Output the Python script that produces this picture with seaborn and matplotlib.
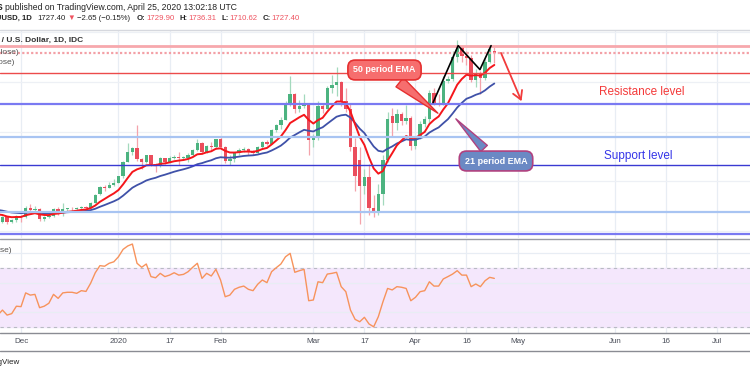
import numpy as np
import pandas as pd
import matplotlib
matplotlib.use("Agg")
import matplotlib.pyplot as plt
from matplotlib.transforms import Affine2D
from matplotlib.lines import Line2D
import seaborn as sns

# trading days shown on the chart (IDC feed, no bars on Dec 25 / Jan 1)
start_day = "2019-11-25"
end_day = "2020-07-15"
closed_days = ["2019-12-25", "2020-01-01"]

opens = [1453, 1455, 1462, 1454, 1458,
	1464, 1463, 1477, 1474, 1475, 1460, 1462, 1465, 1475, 1471, 1476, 1476, 1475, 1477, 1479, 1478, 1486, 1499, 1511, 1510, 1515,
	1518, 1528, 1552, 1567, 1574, 1556, 1552, 1562, 1548, 1545, 1557, 1552, 1557, 1560, 1558, 1558, 1563, 1571, 1582, 1567, 1577, 1575,
	1589, 1576, 1553, 1556, 1566, 1570, 1572, 1568, 1566, 1575, 1584, 1581, 1602, 1611, 1619, 1643, 1660, 1637, 1642, 1643,
	1586, 1590, 1641, 1637, 1671, 1675, 1680, 1649, 1637, 1576, 1555, 1512, 1527, 1477, 1471, 1499, 1554, 1625, 1614, 1628, 1617, 1622,
	1577, 1591, 1613, 1620, 1662, 1647, 1646, 1681, 1685, 1720, 1736, 1722, 1719, 1684, 1695, 1687, 1713, 1729.90]
highs = [1458, 1464, 1463, 1460, 1466,
	1466, 1481, 1484, 1481, 1478, 1465, 1469, 1477, 1479, 1486, 1478, 1479, 1479, 1481, 1481, 1487, 1499, 1512, 1514, 1519, 1524,
	1529, 1553, 1582, 1576, 1611, 1558, 1563, 1563, 1549, 1559, 1557, 1561, 1563, 1568, 1561, 1566, 1573, 1588, 1584, 1578, 1584, 1589,
	1592, 1577, 1562, 1567, 1574, 1576, 1574, 1571, 1577, 1585, 1586, 1604, 1612, 1623, 1649, 1689, 1662, 1651, 1660, 1644,
	1597, 1649, 1645, 1674, 1692, 1704, 1681, 1671, 1646, 1590, 1575, 1540, 1548, 1498, 1516, 1563, 1632, 1638, 1637, 1631, 1643, 1625,
	1592, 1618, 1626, 1667, 1671, 1660, 1690, 1690, 1730, 1748, 1738, 1730, 1723, 1701, 1698, 1717, 1739, 1736.31]
lows = [1450, 1453, 1452, 1453, 1455,
	1454, 1461, 1469, 1470, 1457, 1456, 1461, 1462, 1466, 1465, 1472, 1473, 1473, 1471, 1475, 1477, 1485, 1498, 1505, 1509, 1513,
	1517, 1525, 1552, 1563, 1553, 1540, 1549, 1545, 1536, 1544, 1548, 1550, 1556, 1546, 1554, 1552, 1561, 1569, 1564, 1565, 1569, 1573,
	1574, 1549, 1547, 1552, 1562, 1568, 1562, 1563, 1564, 1573, 1578, 1580, 1599, 1605, 1619, 1642, 1630, 1632, 1638, 1563,
	1576, 1586, 1630, 1636, 1663, 1658, 1641, 1632, 1569, 1504, 1451, 1500, 1466, 1463, 1466, 1482, 1552, 1591, 1603, 1611, 1612, 1571,
	1572, 1589, 1608, 1614, 1643, 1642, 1643, 1678, 1682, 1712, 1712, 1707, 1680, 1672, 1660, 1683, 1710, 1710.62]
closes = [1455, 1462, 1454, 1458, 1464,
	1463, 1477, 1474, 1475, 1460, 1462, 1465, 1475, 1471, 1476, 1476, 1475, 1477, 1479, 1478, 1486, 1498, 1511, 1510, 1515, 1518,
	1528, 1552, 1567, 1574, 1556, 1552, 1562, 1548, 1545, 1557, 1552, 1557, 1560, 1558, 1558, 1563, 1571, 1582, 1567, 1577, 1575, 1589,
	1576, 1553, 1556, 1566, 1570, 1572, 1568, 1566, 1575, 1584, 1581, 1602, 1611, 1619, 1643, 1660, 1637, 1642, 1643, 1586,
	1590, 1641, 1637, 1671, 1675, 1680, 1649, 1637, 1576, 1529, 1512, 1527, 1477, 1471, 1499, 1554, 1620, 1614, 1628, 1617, 1622, 1577,
	1591, 1613, 1620, 1662, 1647, 1646, 1681, 1685, 1720, 1736, 1722, 1719, 1684, 1695, 1687, 1713, 1733, 1727.40]
rsi = [38.0, 41.4, 38.0, 39.0, 44.0, 43.7, 53.0, 51.5, 52.0, 43.0, 44.0, 46.0, 52.0, 49.3, 53.0, 53.4, 53.4, 52.7, 54.5, 54.0,
	59.5, 66.6, 71.4, 71.0, 73.0, 74.0, 77.4, 82.4, 84.7, 86.0, 73.0, 70.3, 72.5, 64.0, 63.2, 66.2, 64.0, 65.0, 66.6, 65.0,
	65.5, 67.3, 70.3, 73.0, 62.8, 66.2, 64.4, 68.9, 61.7, 50.4, 51.5, 55.4, 56.8, 57.6, 55.4, 54.5, 58.8, 61.7, 59.9, 67.3,
	70.0, 72.5, 77.4, 79.7, 66.9, 68.0, 68.9, 47.7, 48.2, 60.5, 59.9, 65.7, 66.2, 66.9, 57.2, 53.8, 41.4, 35.1, 33.5, 36.5,
	32.0, 30.1, 36.9, 47.0, 56.0, 55.0, 57.2, 56.8, 56.0, 47.7, 50.0, 53.8, 54.5, 60.5, 57.6, 57.6, 62.4, 64.0, 65.7, 68.0,
	65.0, 65.0, 57.2, 59.0, 57.2, 61.2, 63.5, 62.8]
# EMA values at the left edge of the picture (history before it is cut off)
ema_fast_seed = 1470
ema_slow_seed = 1476

tick_dates = ["2019-12-02", "2020-01-02", "2020-01-17", "2020-02-03", "2020-03-02", "2020-03-17",
	"2020-04-01", "2020-04-16", "2020-05-01", "2020-06-01", "2020-06-16", "2020-07-01"]
tick_labels = ["Dec", "2020", "17", "Feb", "Mar", "17", "Apr", "16", "May", "Jun", "16", "Jul"]

level_prices = [1738.7, 1727.4, 1695, 1645, 1592, 1547, 1471, 1435]
price_grid = [1440, 1520, 1600, 1680, 1760]

# drawings (bar index, price)
zigzag_x = [93.8, 99.2, 103.9, 106.3]
zigzag_y = [1647, 1738.5, 1700, 1738.5]

sns.set_style("white")
plt.rcParams['font.family'] = ['Liberation Sans', 'DejaVu Sans']

days = pd.bdate_range(start_day, end_day).drop(pd.to_datetime(closed_days))
bars = np.arange(len(closes))
o = np.array(opens); h = np.array(highs); l = np.array(lows); c = np.array(closes)
ticks = days.get_indexer(pd.to_datetime(tick_dates))

ema_fast = pd.Series([ema_fast_seed] + closes).ewm(span = 9, adjust = False).mean().iloc[1:].to_numpy()
ema_slow = pd.Series([ema_slow_seed] + closes).ewm(span = 21, adjust = False).mean().iloc[1:].to_numpy()
df = pd.DataFrame({"bar":bars, "ema9":ema_fast, "ema21":ema_slow, "rsi":rsi})

fig = plt.figure(figsize = (7.5, 3.75), dpi = 100)
pix = Affine2D().scale(1/750, -1/375).translate(0, 1) + fig.transFigure

def pane(top, bottom):
	return [0, 1 - bottom/375, 1, (bottom - top)/375]

ax = fig.add_axes(pane(29.5, 238))
ax_rsi = fig.add_axes(pane(239, 333), sharex = ax)
for a in (ax, ax_rsi):
	for s in a.spines.values():
		s.set_visible(False)
	for t in ticks:
		a.axvline(t, color = "#e8edf4", lw = 0.9, zorder = 0)
ax.set_xlim(0.47, 162.1)
ax.set_ylim(1429, 1764.5)
ax_rsi.set_ylim(25.9, 89.4)

for p in price_grid:
	ax.axhline(p, color = "#edf0f5", lw = 0.9, zorder = 0)

# candles
up = c >= o
body_col = np.where(up, "#4cb380", "#eb4d5c")
wick_col = np.where(up, "#a3d9bd", "#f4a3ab")
ax.vlines(bars, l, h, colors = wick_col, lw = 0.9, zorder = 2)
ax.bar(bars, np.maximum(np.abs(c - o), 0.8), bottom = np.minimum(o, c), width = 0.72,
	color = body_col, linewidth = 0, zorder = 3)

sns.lineplot(data = df, x = "bar", y = "ema21", ax = ax, color = "#3f51a8", lw = 1.3, zorder = 4)
sns.lineplot(data = df, x = "bar", y = "ema9", ax = ax, color = "#f5161b", lw = 1.4, zorder = 4)

level_style = [("#f7a8ad", 2.0, "-"), ("#f3a0a6", 1.6, (0, (1, 1))), ("#ec4b4b", 1.0, "-"),
	("#7a7af2", 1.6, "-"), ("#a8c4f2", 1.6, "-"), ("#3a3ad2", 1.0, "-"),
	("#a8c4f2", 1.6, "-"), ("#7a7af2", 1.6, "-")]
for p, (col, lw, ls) in zip(level_prices, level_style):
	ax.axhline(p, color = col, lw = lw, ls = ls, zorder = 5)

ax.plot(zigzag_x, zigzag_y, color = "black", lw = 1.2, zorder = 6)
ax.annotate("", xy = (113.1, 1645), xytext = (108.2, 1731),
	arrowprops = dict(arrowstyle = "->,head_length=0.6,head_width=0.35", color = "#f23b3b", lw = 1.3), zorder = 6)

ax.annotate("50 period EMA", xy = (95.3, 1627), xytext = (384.5, 70), textcoords = pix,
	ha = "center", va = "center", fontsize = 6.5, fontweight = "bold", color = "white", zorder = 7,
	bbox = dict(boxstyle = "round,pad=0.6,rounding_size=0.8", fc = "#f66e6e", ec = "#e52f2f", lw = 1.2),
	arrowprops = dict(arrowstyle = "wedge,tail_width=1.3", fc = "#f66e6e", ec = "#e52f2f", lw = 1.0))
ax.annotate("21 period EMA", xy = (98.3, 1624), xytext = (496, 161), textcoords = pix,
	ha = "center", va = "center", fontsize = 6.5, fontweight = "bold", color = "white", zorder = 7,
	bbox = dict(boxstyle = "round,pad=0.6,rounding_size=0.8", fc = "#6b89c4", ec = "#b0417f", lw = 1.2),
	arrowprops = dict(arrowstyle = "wedge,tail_width=1.0", fc = "#6b89c4", ec = "#b0417f", lw = 1.0))

fig.text(599, 92, "Resistance level", transform = pix, color = "#f43a3a", fontsize = 8.5, va = "center")
fig.text(604, 156, "Support level", transform = pix, color = "#3535e8", fontsize = 8.5, va = "center")

# legends of the panes, cut at the left edge
fig.text(83, 40, "Gold Spot / U.S. Dollar, 1D, IDC", transform = pix, ha = "right", va = "center",
	fontsize = 6, fontweight = "bold", color = "#333333")
fig.text(18.5, 52, "EMA (9, close)", transform = pix, ha = "right", va = "center", fontsize = 6, color = "#555555")
fig.text(14, 62, "EMA (21, close)", transform = pix, ha = "right", va = "center", fontsize = 6, color = "#555555")
fig.text(12, 250, "RSI (14, close)", transform = pix, ha = "right", va = "center", fontsize = 6, color = "#555555")

# RSI pane
ax_rsi.axhspan(30, 70, color = "#f4e7fc", zorder = 0)
for v in (40, 60, 80):
	ax_rsi.axhline(v, color = "#e8edf4", lw = 0.9, zorder = 0)
for v in (30, 70):
	ax_rsi.axhline(v, color = "#b8bbc3", lw = 0.8, ls = (0, (3, 3)), zorder = 1)
sns.lineplot(data = df, x = "bar", y = "rsi", ax = ax_rsi, color = "#f7935c", lw = 1.0, zorder = 3)

ax.set_xlabel(""); ax.set_ylabel(""); ax_rsi.set_xlabel(""); ax_rsi.set_ylabel("")
ax.tick_params(left = False, bottom = False, labelleft = False, labelbottom = False)
ax_rsi.tick_params(left = False, labelleft = False, bottom = False)
ax_rsi.set_xticks(ticks)
ax_rsi.set_xticklabels(tick_labels)
ax_rsi.tick_params(axis = "x", length = 0, pad = 3.5, labelsize = 5.8, labelcolor = "#4a4e59")

# pane separators
for y, col in ((29.5, "#d6d8de"), (238.5, "#9a9ca3"), (333, "#8a8c93"), (350.5, "#8a8c93")):
	fig.add_artist(Line2D([0, 750], [y, y], transform = pix, color = col, lw = 1.0))

# header
hdr = "#222222"
red = "#ef5360"
fig.text(3, 7, "S", transform = pix, ha = "right", va = "center", fontsize = 6.2, fontweight = "bold", color = hdr)
fig.text(5, 7, "published on TradingView.com, April 25, 2020 13:02:18 UTC", transform = pix,
	va = "center", fontsize = 6.2, color = hdr)
row2 = [(32, "XAUUSD, 1D", "bold", hdr, "right"), (37, "1727.40", "normal", hdr, "left"),
	(67, "\u25bc", "normal", red, "left"), (77, "\u22122.65 (\u22120.15%)", "normal", hdr, "left"),
	(137, "O:", "bold", hdr, "left"), (146, "1729.90", "normal", red, "left"),
	(180, "H:", "bold", hdr, "left"), (188, "1736.31", "normal", red, "left"),
	(222, "L:", "bold", hdr, "left"), (229, "1710.62", "normal", red, "left"),
	(263, "C:", "bold", hdr, "left"), (271, "1727.40", "normal", red, "left")]
for x, s, w, col, ha in row2:
	fig.text(x, 18.5, s, transform = pix, ha = ha, va = "center", fontsize = 5.6, fontweight = w, color = col)

fig.text(20, 362, "TradingView", transform = pix, ha = "right", va = "center", fontsize = 5.8, color = "#222222")

fig.savefig("out.png", dpi = 100)
